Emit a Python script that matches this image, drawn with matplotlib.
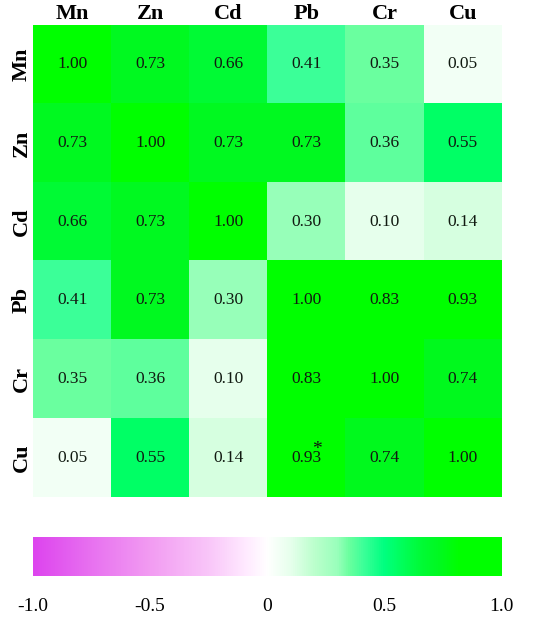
import matplotlib.pyplot as plt
import numpy as np
from matplotlib.colors import LinearSegmentedColormap

elements = ['Mn', 'Zn', 'Cd', 'Pb', 'Cr', 'Cu']
corr = np.array([
    [1.00, 0.73, 0.66, 0.41, 0.35, 0.05],
    [0.73, 1.00, 0.73, 0.73, 0.36, 0.55],
    [0.66, 0.73, 1.00, 0.30, 0.10, 0.14],
    [0.41, 0.73, 0.30, 1.00, 0.83, 0.93],
    [0.35, 0.36, 0.10, 0.83, 1.00, 0.74],
    [0.05, 0.55, 0.14, 0.93, 0.74, 1.00],
])
cbar_ticks = [-1.0, -0.5, 0, 0.5, 1.0]
cbar_labels = ['-1.0', '-0.5', '0', '0.5', '1.0']

plt.rcParams['font.family'] = ['Liberation Serif', 'DejaVu Serif']

# magenta - white - green scale
nodes = [
    (0.000, '#dd44ee'),
    (0.125, '#e872f0'),
    (0.250, '#f29cf2'),
    (0.375, '#f9c6f9'),
    (0.450, '#ffe8ff'),
    (0.500, '#ffffff'),
    (0.550, '#e6ffec'),
    (0.600, '#bcffcd'),
    (0.650, '#99ffbb'),
    (0.675, '#6aff9f'),
    (0.705, '#3dff99'),
    (0.750, '#00ff80'),
    (0.780, '#00ff62'),
    (0.830, '#00fb35'),
    (0.865, '#00f922'),
    (0.910, '#00ff00'),
    (1.000, '#00ff00'),
]
cmap = LinearSegmentedColormap.from_list('mg', nodes)

fig = plt.figure(figsize=(5.5, 6.23), dpi=100)
ax = fig.add_axes([0.06, 0.2022, 0.8527, 0.7577])
ax.imshow(corr, cmap=cmap, vmin=-1, vmax=1, aspect='auto')

for i in range(len(elements)):
    for j in range(len(elements)):
        ax.text(j, i, f'{corr[i, j]:.2f}', ha='center', va='center',
                fontsize=12.5, color='#111a11')
# significance mark on Cu-Pb
ax.annotate('*', xy=(3, 5), xytext=(7.5, 6), textcoords='offset points',
            ha='center', va='center', fontsize=14, color='#111111')

ax.set_xticks(range(len(elements)))
ax.set_yticks(range(len(elements)))
ax.set_xticklabels(elements, fontsize=16, fontweight='bold')
ax.set_yticklabels(elements, fontsize=16, fontweight='bold', rotation=90, va='center')
ax.xaxis.tick_top()
ax.tick_params(length=0, pad=1)
for s in ax.spines.values():
    s.set_visible(False)

cax = fig.add_axes([0.06, 0.0754, 0.851, 0.0626])
grad = np.linspace(-1, 1, 512).reshape(1, -1)
cax.imshow(grad, cmap=cmap, vmin=-1, vmax=1, aspect='auto', extent=[-1, 1, 0, 1])
cax.set_yticks([])
cax.set_xticks(cbar_ticks)
cax.set_xticklabels(cbar_labels, fontsize=14)
cax.tick_params(length=0, pad=16)
for s in cax.spines.values():
    s.set_visible(False)

plt.savefig('out.png')
